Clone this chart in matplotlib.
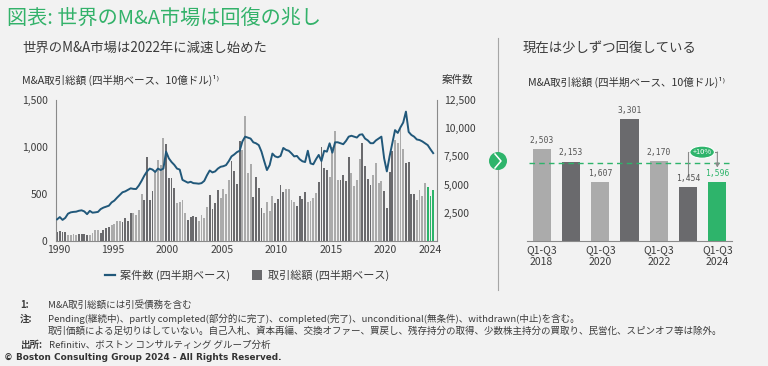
import matplotlib
matplotlib.use('Agg')
import matplotlib.pyplot as plt
from matplotlib.patches import Circle, Ellipse, Rectangle
from matplotlib.lines import Line2D
import numpy as np

plt.rcParams['font.family'] = ['Noto Sans CJK JP', 'DejaVu Sans']

# ---------------- data ----------------
start_year = 1990
deal_value = [
    100, 110, 100, 92,
    65, 68, 78, 68,
    72, 75, 70, 65,
    65, 80, 112, 118,
    90, 118, 142, 145,
    170, 178, 215, 212,
    205, 250, 212, 298,
    298, 278, 330, 505,
    440, 890, 432, 530,
    730, 860, 808, 1100,
    1028, 667, 667, 567,
    400, 418, 433, 294,
    223, 259, 266, 252,
    213, 277, 248, 365,
    489, 340, 408, 543,
    461, 553, 500, 649,
    851, 745, 606, 1064,
    968, 1330, 720, 816,
    472, 684, 560, 348,
    294, 418, 319, 482,
    400, 447, 596, 518,
    550, 550, 436, 418,
    376, 482, 447, 525,
    418, 425, 454, 507,
    624, 996, 780, 752,
    684, 1000, 1170, 650,
    649, 700, 638, 890,
    727, 590, 650, 870,
    1046, 800, 660, 596,
    700, 830, 620, 640,
    530, 348, 729, 960,
    1070, 1040, 1190, 980,
    830, 845, 495, 496,
    440, 540, 474, 620,
    578, 478, 540,
]
deal_count = [
    1920, 2120, 1870, 2050,
    2420, 2540, 2580, 2600,
    2680, 2720, 2620, 2380,
    2670, 2510, 2540, 2580,
    2830, 2960, 3040, 3130,
    3420, 3580, 3840, 4080,
    4320, 4400, 4540, 4670,
    4620, 4610, 4920, 5330,
    5790, 6170, 6420, 6330,
    6120, 6420, 6290, 6420,
    7920, 7330, 7000, 6750,
    6420, 6330, 5420, 5290,
    5170, 5250, 5130, 5110,
    5080, 5130, 5330, 5830,
    6250, 6080, 6170, 6420,
    6580, 6630, 6730, 7080,
    7500, 7670, 7880, 8000,
    8830, 9250, 9170, 9080,
    8750, 8660, 8500, 7920,
    7080, 6290, 6730, 7750,
    7500, 7420, 7540, 8250,
    8080, 8000, 7770, 7500,
    7540, 7250, 7070, 7000,
    8000, 6880, 6800, 7250,
    7630, 7090, 8000, 7920,
    8660, 7830, 8750, 8750,
    8670, 8580, 8870, 9250,
    9330, 9250, 9170, 9420,
    9460, 9080, 8920, 8670,
    8670, 8920, 9080, 9250,
    7330, 6170, 7500, 8670,
    9830, 9580, 10080, 10500,
    11470, 9670, 9400, 9250,
    9000, 8950, 8830, 8670,
    8500, 8130, 7790,
]
tick_years = [1990, 1995, 2000, 2005, 2010, 2015, 2020, 2024]
left_ticks = [0, 500, 1000, 1500]
right_ticks = [2500, 5000, 7500, 10000, 12500]

ytd_years = [2018, 2019, 2020, 2021, 2022, 2023, 2024]
ytd_values = [2503, 2153, 1607, 3301, 2170, 1454, 1596]
ytd_labels = ['Q1-Q3\n2018', '', 'Q1-Q3\n2020', '', 'Q1-Q3\n2022', '', 'Q1-Q3\n2024']

# ---------------- style ----------------
W, H = 768, 366
BG = '#f2f2f2'
GREEN = '#2eb46b'
TITLE_GREEN = '#33b26a'
DARK = '#6a6a6d'
LIGHT = '#ababab'
LINE = '#21587a'
TXT = '#3c3c3c'
AXC = '#8a8a8a'

fig = plt.figure(figsize=(W / 100, H / 100), dpi=100, facecolor=BG)

def fig_rect(x0, y_top, x1, y_bot):
    return [x0 / W, 1 - y_bot / H, (x1 - x0) / W, (y_bot - y_top) / H]

# overlay axes in pixel coordinates
ov = fig.add_axes([0, 0, 1, 1])
ov.set_xlim(0, W)
ov.set_ylim(H, 0)
ov.axis('off')
ov.patch.set_visible(False)

# ---------------- left chart ----------------
n = len(deal_value)
idx = np.arange(n)
qyears = [start_year + i // 4 for i in range(n)]
colors = [GREEN if y == 2024 else (DARK if y % 2 == 0 else LIGHT) for y in qyears]

ax = fig.add_axes(fig_rect(56, 100, 437, 241))
ax.patch.set_visible(False)
ax.bar(idx, deal_value, width=0.68, color=colors, linewidth=0)
ax.set_xlim(-0.4, n + 0.4)
ax.set_ylim(0, 1500)
ax.set_yticks(left_ticks)
ax.set_yticklabels([f'{v:,}' for v in left_ticks])
xt = [4 * (y - start_year) + 0.5 if y != 2024 else 4 * (y - start_year) + 1 for y in tick_years]
ax.set_xticks(xt)
ax.set_xticklabels([str(y) for y in tick_years])
ax.tick_params(axis='both', length=0, labelsize=7.5, colors=TXT)
ax.tick_params(axis='y', pad=6)
ax.tick_params(axis='x', pad=3)
for s in ['top', 'right']:
    ax.spines[s].set_visible(False)
for s in ['left', 'bottom']:
    ax.spines[s].set_color(AXC)
    ax.spines[s].set_linewidth(0.8)

ax2 = ax.twinx()
ax2.plot(idx, deal_count, color=LINE, lw=1.4)
ax2.set_ylim(0, 12500)
ax2.set_yticks(right_ticks)
ax2.set_yticklabels([f'{v:,}' for v in right_ticks])
ax2.tick_params(axis='y', length=0, labelsize=7.5, colors=TXT, pad=5)
for s in ['top', 'left', 'bottom']:
    ax2.spines[s].set_visible(False)
ax2.spines['right'].set_color(AXC)
ax2.spines['right'].set_linewidth(0.8)

# ---------------- right chart ----------------
ax3 = fig.add_axes(fig_rect(527, 100, 732, 241))
ax3.patch.set_visible(False)
rx = np.arange(len(ytd_values))
rcol = [GREEN if y == 2024 else (LIGHT if y % 2 == 0 else DARK) for y in ytd_years]
ax3.bar(rx, ytd_values, width=0.62, color=rcol, linewidth=0)
ax3.set_xlim(-0.5, len(ytd_values) - 0.5)
ax3.set_ylim(0, 3825)
ax3.set_yticks([])
ax3.set_xticks(rx)
ax3.set_xticklabels(ytd_labels, fontsize=7.5, color=TXT, linespacing=1.2)
ax3.tick_params(axis='x', length=0, pad=3)
for s in ['top', 'right', 'left']:
    ax3.spines[s].set_visible(False)
ax3.spines['bottom'].set_color(AXC)
ax3.spines['bottom'].set_linewidth(0.8)
for x, v, y in zip(rx, ytd_values, ytd_years):
    ax3.annotate(f'{v:,}', (x, v), xytext=(0, 3), textcoords='offset points',
                 ha='center', va='bottom', fontsize=5.8,
                 family=['DejaVu Sans Mono'],
                 color=GREEN if y == 2024 else '#555555')
ax3.axhline(2120, xmin=0.01, xmax=0.99, color=GREEN, lw=1.0, dashes=(4, 3))
# growth bracket
ax3.plot([5, 5, 5.12], [1760, 2410, 2410], color=AXC, lw=0.8, clip_on=False)
ax3.plot([5.86, 6.0], [2410, 2410], color=AXC, lw=0.8, clip_on=False)
ax3.annotate('', xy=(6.0, 1990), xytext=(6.0, 2415),
             arrowprops=dict(arrowstyle='-|>', color=AXC, lw=0.8,
                             mutation_scale=6, shrinkA=0, shrinkB=0))
ax3.add_patch(Ellipse((5.48, 2410), 0.84, 330, facecolor=GREEN,
                      edgecolor='white', lw=0.8, clip_on=False, zorder=5))
ax3.text(5.48, 2410, '+10%', ha='center', va='center', fontsize=5.4,
         color='white', zorder=6)

# ---------------- separator & chevron ----------------
ov.add_line(Line2D([498, 498], [38, 290], color='#a6a6a6', lw=0.8))
ov.add_patch(Circle((498, 161), 9, facecolor=GREEN, edgecolor='none', zorder=3))
ov.add_line(Line2D([495, 501, 495], [154, 161, 168], color='white', lw=1.1, zorder=4))

# ---------------- texts ----------------
ov.text(7, 18, '図表: 世界のM&A市場は回復の兆し', fontsize=14.5, color=TITLE_GREEN,
        va='center', ha='left')
ov.text(22, 48, '世界のM&A市場は2022年に減速し始めた', fontsize=9.6, color=TXT,
        va='center', ha='left')
ov.text(523, 48, '現在は少しずつ回復している', fontsize=9.6, color=TXT,
        va='center', ha='left')
ov.text(22, 80, 'M&A取引総額 (四半期ベース、10億ドル)¹⁾', fontsize=7.6, color='#333333',
        va='center', ha='left')
ov.text(442, 80, '案件数', fontsize=7.6, color='#333333', va='center', ha='left')
ov.text(528, 82, 'M&A取引総額 (四半期ベース、10億ドル)¹⁾', fontsize=7.6, color='#333333',
        va='center', ha='left')

# legend
ov.add_line(Line2D([105, 115], [275, 275], color=LINE, lw=1.6))
ov.text(120, 275, '案件数 (四半期ベース)', fontsize=8.0, color=TXT, va='center', ha='left')
ov.add_patch(Rectangle((252, 270), 10, 10, facecolor=DARK, edgecolor='none'))
ov.text(268, 275, '取引総額 (四半期ベース)', fontsize=8.0, color=TXT, va='center', ha='left')

# footnotes
fs = 6.85
ov.text(20, 305, '1:', fontsize=fs, color=TXT, va='center', fontweight='bold')
ov.text(48, 305, 'M&A取引総額には引受債務を含む', fontsize=fs, color=TXT, va='center')
ov.text(20, 319, '注:', fontsize=fs, color=TXT, va='center', fontweight='bold')
ov.text(48, 319, 'Pending(継続中)、partly completed(部分的に完了)、completed(完了)、'
        'unconditional(無条件)、withdrawn(中止)を含む。', fontsize=fs, color=TXT, va='center')
ov.text(48, 331, '取引価額による足切りはしていない。自己入札、資本再編、交換オファー、買戻し、'
        '残存持分の取得、少数株主持分の買取り、民営化、スピンオフ等は除外。',
        fontsize=fs, color=TXT, va='center')
ov.text(20, 345, '出所:', fontsize=fs, color=TXT, va='center', fontweight='bold')
ov.text(49, 345, 'Refinitiv、ボストン コンサルティング グループ分析', fontsize=fs,
        color=TXT, va='center')
ov.text(4, 357, '© Boston Consulting Group 2024 - All Rights Reserved.', fontsize=6.4,
        color='#333333', va='center', fontweight='bold', family=['DejaVu Sans'])

fig.savefig('out.png', dpi=100, facecolor=BG)
